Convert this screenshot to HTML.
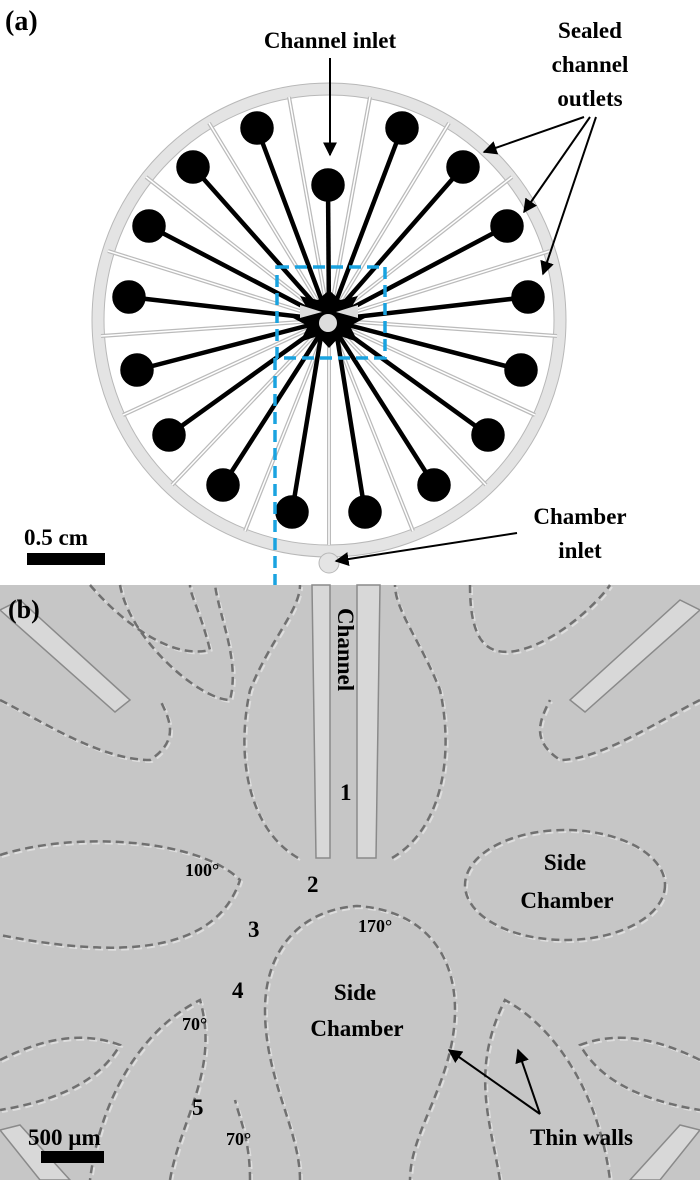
<!DOCTYPE html>
<html><head><meta charset="utf-8"><style>
body{margin:0;width:700px;height:1180px;overflow:hidden;background:#fff}
svg{display:block}
text{font-family:"Liberation Serif",serif;font-weight:bold;fill:#000}
</style></head><body>
<svg width="700" height="1180" viewBox="0 0 700 1180" xmlns="http://www.w3.org/2000/svg">
<defs>
<marker id="ah" viewBox="0 0 10 10" refX="9" refY="5" markerWidth="7" markerHeight="7" orient="auto"><path d="M0,0 L10,5 L0,10 z" fill="#000"/></marker>
<g id="chs">
<path d="M298,858 C250,830 235,760 250,690 C270,640 300,610 300,585"/>
<path d="M392,858 C440,830 455,760 440,690 C420,640 395,610 395,585"/>
<path d="M300,1180 C300,1130 265,1080 265,1010 C265,950 300,910 357,906 C420,910 455,950 455,1010 C455,1080 410,1130 410,1180"/>
<ellipse cx="565" cy="885" rx="100" ry="55"/>
<path d="M0,855 C80,830 200,840 240,880 C220,940 150,965 0,935"/>
<path d="M90,585 C120,620 170,660 210,650 C200,610 190,595 190,585"/>
<path d="M120,585 C130,640 200,700 230,700 C240,660 220,620 215,585"/>
<path d="M470,585 C470,630 480,660 520,650 C560,640 600,600 610,585"/>
<path d="M0,700 C40,720 100,760 150,760 C180,740 170,720 160,700"/>
<path d="M700,700 C660,720 600,760 560,760 C530,740 540,720 550,700"/>
<path d="M170,1180 C180,1120 220,1070 200,1000 C140,1030 100,1100 90,1180"/>
<path d="M500,1180 C490,1120 470,1070 505,1000 C560,1030 600,1100 610,1180"/>
<path d="M0,1060 C40,1040 80,1030 120,1045 C100,1080 60,1100 0,1110"/>
<path d="M700,1060 C660,1040 620,1030 580,1045 C600,1080 640,1100 700,1110"/>
<path d="M250,1180 C250,1140 240,1120 235,1100"/>
</g>
</defs>
<!-- panel a -->
<circle cx="329" cy="320" r="231" fill="none" stroke="#b8b8b8" stroke-width="13"/>
<circle cx="329" cy="320" r="231" fill="none" stroke="#e4e4e4" stroke-width="11"/>
<circle cx="329" cy="563" r="10" fill="#e4e4e4" stroke="#b8b8b8" stroke-width="1"/>
<g id="sp">
<line x1="329" y1="320" x2="329" y2="545"/>
<line x1="329" y1="320" x2="289" y2="97"/>
<line x1="329" y1="320" x2="370" y2="97"/>
<line x1="329" y1="320" x2="209" y2="123"/>
<line x1="329" y1="320" x2="449" y2="123"/>
<line x1="329" y1="320" x2="146" y2="177"/>
<line x1="329" y1="320" x2="512" y2="177"/>
<line x1="329" y1="320" x2="108" y2="251"/>
<line x1="329" y1="320" x2="550" y2="251"/>
<line x1="329" y1="320" x2="101" y2="336"/>
<line x1="329" y1="320" x2="557" y2="336"/>
<line x1="329" y1="320" x2="123" y2="415"/>
<line x1="329" y1="320" x2="535" y2="415"/>
<line x1="329" y1="320" x2="172" y2="485"/>
<line x1="329" y1="320" x2="486" y2="485"/>
<line x1="329" y1="320" x2="245" y2="531"/>
<line x1="329" y1="320" x2="413" y2="531"/>
</g>
<use href="#sp" stroke="#bbb" stroke-width="4"/>
<use href="#sp" stroke="#fff" stroke-width="1.5"/>
<g stroke="#000" stroke-width="4.5" fill="#000">
<line x1="329" y1="320" x2="257" y2="128"/><line x1="329" y1="320" x2="402" y2="128"/>
<line x1="329" y1="320" x2="193" y2="167"/><line x1="329" y1="320" x2="463" y2="167"/>
<line x1="329" y1="320" x2="149" y2="226"/><line x1="329" y1="320" x2="507" y2="226"/>
<line x1="329" y1="320" x2="129" y2="297"/><line x1="329" y1="320" x2="528" y2="297"/>
<line x1="329" y1="320" x2="137" y2="370"/><line x1="329" y1="320" x2="521" y2="370"/>
<line x1="329" y1="320" x2="169" y2="435"/><line x1="329" y1="320" x2="488" y2="435"/>
<line x1="329" y1="320" x2="223" y2="485"/><line x1="329" y1="320" x2="434" y2="485"/>
<line x1="322" y1="330" x2="292" y2="512"/><line x1="336" y1="330" x2="365" y2="512"/>
<line x1="329" y1="320" x2="328" y2="185"/>
<circle cx="257" cy="128" r="14.5"/><circle cx="402" cy="128" r="14.5"/>
<circle cx="193" cy="167" r="14.5"/><circle cx="463" cy="167" r="14.5"/>
<circle cx="149" cy="226" r="14.5"/><circle cx="507" cy="226" r="14.5"/>
<circle cx="129" cy="297" r="14.5"/><circle cx="528" cy="297" r="14.5"/>
<circle cx="137" cy="370" r="14.5"/><circle cx="521" cy="370" r="14.5"/>
<circle cx="169" cy="435" r="14.5"/><circle cx="488" cy="435" r="14.5"/>
<circle cx="223" cy="485" r="14.5"/><circle cx="434" cy="485" r="14.5"/>
<circle cx="292" cy="512" r="14.5"/><circle cx="365" cy="512" r="14.5"/>
<circle cx="328" cy="185" r="14.5"/>
</g>
<path d="M329,290 L340,300 L358,296 L350,310 L365,318 L350,326 L358,342 L340,336 L329,348 L318,336 L300,342 L308,326 L293,318 L308,310 L300,296 L318,300 Z" fill="#000"/>
<path d="M300,305 L322,312 L300,318 Z M358,305 L336,312 L358,318 Z" fill="#ddd"/>
<circle cx="328" cy="323" r="9" fill="#ddd"/>
<rect x="277" y="267" width="108" height="91" fill="none" stroke="#1aa3e0" stroke-width="3.5" stroke-dasharray="12,6"/>
<line x1="275" y1="358" x2="275" y2="585" stroke="#1aa3e0" stroke-width="3.5" stroke-dasharray="12,6"/>
<text x="5" y="30" font-size="28">(a)</text>
<text x="330" y="48" font-size="23" text-anchor="middle">Channel inlet</text>
<line x1="330" y1="58" x2="330" y2="155" stroke="#000" stroke-width="2" marker-end="url(#ah)"/>
<text x="590" y="38" font-size="23" text-anchor="middle">Sealed</text>
<text x="590" y="72" font-size="23" text-anchor="middle">channel</text>
<text x="590" y="106" font-size="23" text-anchor="middle">outlets</text>
<line x1="584" y1="117" x2="484" y2="152" stroke="#000" stroke-width="2" marker-end="url(#ah)"/>
<line x1="590" y1="117" x2="524" y2="212" stroke="#000" stroke-width="2" marker-end="url(#ah)"/>
<line x1="596" y1="117" x2="543" y2="274" stroke="#000" stroke-width="2" marker-end="url(#ah)"/>
<text x="580" y="524" font-size="23" text-anchor="middle">Chamber</text>
<text x="580" y="558" font-size="23" text-anchor="middle">inlet</text>
<line x1="517" y1="533" x2="336" y2="561" stroke="#000" stroke-width="2" marker-end="url(#ah)"/>
<text x="24" y="545" font-size="23">0.5 cm</text>
<rect x="27" y="553" width="78" height="12" fill="#000"/>
<!-- panel b -->
<rect x="0" y="585" width="700" height="595" fill="#c6c6c6"/>
<g fill="#d8d8d8" stroke="#8a8a8a" stroke-width="1.5">
<polygon points="312,585 330,585 330,858 316,858"/>
<polygon points="357,585 380,585 376,858 357,858"/>
<polygon points="0,610 20,600 130,700 115,712"/>
<polygon points="700,610 680,600 570,700 585,712"/>
<polygon points="0,1130 20,1125 70,1180 40,1180"/>
<polygon points="700,1130 680,1125 630,1180 660,1180"/>
</g>
<use href="#chs" fill="none" stroke="#dedede" stroke-width="2" stroke-dasharray="8,5" transform="translate(2,2)"/>
<use href="#chs" fill="none" stroke="#707070" stroke-width="2.5" stroke-dasharray="8,5"/>
<text x="8" y="618" font-size="26">(b)</text>
<text font-size="23" transform="translate(338,608) rotate(90)">Channel</text>
<text x="340" y="800" font-size="23">1</text>
<text x="307" y="892" font-size="23">2</text>
<text x="248" y="937" font-size="23">3</text>
<text x="232" y="998" font-size="23">4</text>
<text x="192" y="1115" font-size="23">5</text>
<text x="185" y="876" font-size="18">100°</text>
<text x="358" y="932" font-size="18">170°</text>
<text x="182" y="1030" font-size="18">70°</text>
<text x="226" y="1145" font-size="18">70°</text>
<text x="355" y="1000" font-size="23" text-anchor="middle">Side</text>
<text x="357" y="1036" font-size="23" text-anchor="middle">Chamber</text>
<text x="565" y="870" font-size="23" text-anchor="middle">Side</text>
<text x="567" y="908" font-size="23" text-anchor="middle">Chamber</text>
<text x="530" y="1145" font-size="23">Thin walls</text>
<line x1="540" y1="1114" x2="449" y2="1050" stroke="#000" stroke-width="2" marker-end="url(#ah)"/>
<line x1="540" y1="1114" x2="518" y2="1050" stroke="#000" stroke-width="2" marker-end="url(#ah)"/>
<text x="28" y="1145" font-size="23">500 µm</text>
<rect x="41" y="1151" width="63" height="12" fill="#000"/>
</svg>
</body></html>
